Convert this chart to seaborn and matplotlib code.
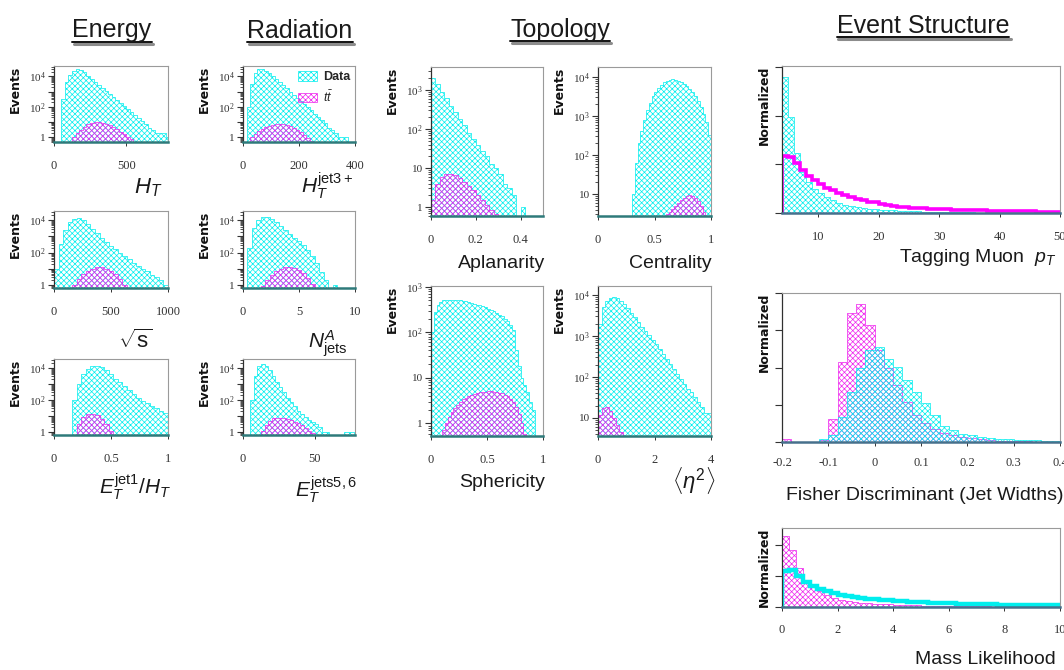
import numpy as np
import matplotlib
matplotlib.use("Agg")
import matplotlib.pyplot as plt
import seaborn as sns
from matplotlib.ticker import FixedLocator, FuncFormatter, LogLocator, NullFormatter
from matplotlib.lines import Line2D
from matplotlib.patches import Patch

# ---------------- data ----------------
HT_EDGES = np.arange(0, 800.1, 25)
HT_DATA = [0, 0, 300, 4000, 12600, 22400, 28000, 25000, 17800, 11200, 7100, 4500, 2800, 1800, 1100,
           710, 450, 280, 180, 110, 71, 45, 28, 18, 11, 7, 4, 3, 2, 2, 2, 1]
HT_TT = [0, 0, 0, 0, 0, 1.0, 2.0, 3.2, 5.0, 7.0, 8.8, 10, 10, 9.2, 7.8, 6.2, 4.6, 3.3, 2.3, 1.6, 1.1,
         0.75, 0.5, 0, 0, 0, 0, 0, 0, 0, 0, 0]

HTJ_EDGES = np.arange(0, 400.1, 12.5)
HTJ_DATA = [0, 100, 3200, 16000, 28000, 28000, 22000, 16000, 10000, 6300, 4000, 2500, 1600, 1000, 630,
            400, 250, 160, 100, 63, 35, 22, 13, 8, 4, 3, 2, 1, 1, 1, 0, 0]
HTJ_TT = [0, 0, 1.0, 1.6, 2.4, 3.4, 4.6, 5.7, 6.6, 7.2, 7.4, 7.1, 6.4, 5.5, 4.3, 3.2, 2.3, 1.5, 0.92,
          0.54, 0, 0, 0, 0, 0, 0, 0, 0, 0, 0, 0, 0]

SQS_EDGES = np.arange(0, 1000.1, 40)
SQS_DATA = [10, 320, 2500, 8000, 12600, 13200, 10000, 5600, 2800, 1600, 800, 450, 250, 160, 100,
            63, 38, 22, 15, 10, 7, 4, 3, 2, 1]
SQS_TT = [0, 0, 0, 0, 1.06, 2.4, 4.6, 7.5, 10.5, 12.3, 12.3, 10.5, 7.5, 4.6, 2.4, 1.06, 0.4,
          0, 0, 0, 0, 0, 0, 0, 0]

NJ_EDGES = np.arange(0, 10.01, 0.4)
NJ_DATA = [0, 200, 3200, 10000, 16000, 16000, 12600, 8000, 4500, 2500, 1400, 800, 500, 280, 140,
           63, 22, 6, 2, 0, 1, 0, 0, 0, 0]
NJ_TT = [0, 0, 0, 0, 0.85, 2, 4.2, 7.2, 10.4, 12.9, 13.4, 11.8, 8.7, 5.5, 2.8, 1.25, 0.5,
         0, 0, 0, 0, 0, 0, 0, 0]

RAT_EDGES = np.arange(0, 1.001, 0.04)
RAT_DATA = [0, 0, 0, 0, 100, 1000, 4000, 8900, 12600, 13200, 11200, 7100, 4000, 2200, 1260,
            710, 400, 224, 141, 89, 63, 45, 32, 22, 16]
RAT_TT = [0, 0, 0, 0, 0.66, 3, 8.5, 13.8, 14.5, 11, 6.8, 3.2, 1.2, 0.3, 0, 0, 0, 0, 0, 0, 0, 0, 0, 0, 0]

E56_EDGES = np.arange(0, 77.51, 2.5)
E56_DATA = [0, 0, 100, 3200, 12600, 17800, 14000, 7100, 3200, 1400, 630, 320, 140, 71, 40, 22, 14,
            9, 6, 4, 3, 2, 1, 1, 0, 0, 0, 0, 1, 1, 1]
E56_TT = [0, 0, 0, 0, 0, 1.26, 2.8, 5.0, 7.2, 8.1, 8.1, 7.4, 6.6, 5.6, 4.6, 3.6, 2.7, 1.9, 1.26, 0.83,
          0, 0, 0, 0, 0, 0, 0, 0, 0, 0, 0]

APL_EDGES = np.arange(0, 0.5001, 0.02)
APL_DATA = [2000, 1400, 900, 630, 400, 280, 180, 126, 80, 56, 40, 28, 20, 13, 10, 7, 4, 3, 2, 0, 1,
            0, 0, 0, 0]
APL_TT = [1.5, 4, 6, 7, 7, 6.5, 5.5, 4.5, 3.5, 2.7, 2.0, 1.5, 1.1, 0.85, 0.65, 0, 0, 0, 0, 0, 0, 0, 0, 0, 0]

CEN_EDGES = np.arange(0, 1.0001, 0.025)
CEN_DATA = [0] * 12 + [10, 63, 200, 400, 800, 1400, 2200, 3200, 4200, 5200, 6300, 7400, 8100, 8500,
                       8700, 8500, 7900, 7400, 6600, 5800, 4800, 4000, 3200, 2400, 1700, 1100, 700, 320]
CEN_TT = [0] * 24 + [3, 3.5, 4.2, 5, 6, 7, 8, 9, 9.3, 9, 8, 6.5, 5, 3.5, 2.7, 0]

SPH_EDGES = np.arange(0, 1.0001, 0.025)
SPH_DATA = [100, 280, 400, 470, 500, 510, 525, 525, 525, 510, 500, 490, 480, 455, 445, 425, 405, 390,
            370, 355, 330, 310, 290, 270, 245, 225, 200, 175, 145, 112, 40, 18, 10, 7, 5, 3, 2, 0, 0, 0]
SPH_TT = [0, 0, 0, 0, 0.7, 1.0, 1.4, 1.8, 2.2, 2.6, 3.0, 3.4, 3.7, 4.0, 4.3, 4.5, 4.7, 4.85, 4.95, 5.0,
          5.05, 5.05, 5.0, 4.9, 4.75, 4.55, 4.3, 3.95, 3.5, 3.0, 2.3, 1.6, 1.0, 0.6, 0, 0, 0, 0, 0, 0]

ETA_EDGES = np.arange(0, 4.001, 0.125)
ETA_DATA = [2000, 5000, 7100, 8500, 8900, 8300, 7200, 6000, 4800, 3700, 2900, 2200, 1700, 1350, 1050,
            810, 630, 480, 360, 275, 210, 160, 120, 90, 68, 52, 42, 32, 25, 18, 13, 13]
ETA_TT = [12, 17, 18, 15, 10, 6.5, 4.5, 3.6] + [0] * 24

MU_EDGES = np.arange(4, 50.01, 1)
MU_BKG = [0.279, 0.197, 0.123, 0.084, 0.064, 0.05, 0.041, 0.033, 0.026, 0.021, 0.016, 0.014, 0.012,
          0.010, 0.009, 0.008, 0.007, 0.006, 0.0055, 0.005, 0.0045, 0.004, 0.0035, 0.003, 0.0025, 0.002,
          0.002, 0.0018, 0.0016, 0.0015, 0.0013, 0.0012, 0.001, 0.001, 0.0009, 0.0009, 0.0008, 0.0008,
          0.0007, 0.0007, 0.0006, 0.0006, 0.0005, 0.0005, 0.0005, 0.0004]
MU_TT = [0.118, 0.116, 0.103, 0.088, 0.077, 0.067, 0.059, 0.052, 0.047, 0.041, 0.036, 0.033, 0.029,
         0.026, 0.023, 0.022, 0.018, 0.016, 0.014, 0.013, 0.012, 0.011, 0.010, 0.0095, 0.009, 0.0085,
         0.008, 0.0075, 0.007, 0.0066, 0.0062, 0.0058, 0.0055, 0.0052, 0.0049, 0.0046, 0.0043, 0.004,
         0.0038, 0.0036, 0.0034, 0.0032, 0.003, 0.0028, 0.0027, 0.0026]

FI_EDGES = np.arange(-0.2, 0.4001, 0.02)
FI_TT = [0.0045, 0, 0, 0, 0.003, 0.031, 0.107, 0.173, 0.185, 0.157, 0.124, 0.099, 0.076, 0.054, 0.036,
         0.025, 0.017, 0.012, 0.009, 0.007, 0.005, 0.0036, 0.0027, 0.0018, 0.0014, 0.001, 0.0008,
         0.0006, 0.0004, 0.0003]
FI_BKG = [0, 0, 0, 0, 0.0045, 0.009, 0.034, 0.067, 0.1, 0.124, 0.128, 0.112, 0.101, 0.083, 0.067,
          0.052, 0.036, 0.022, 0.016, 0.011, 0.009, 0.007, 0.0054, 0.0045, 0.0036, 0.003, 0.0027,
          0.0022, 0.0015, 0.001]

ML_EDGES = np.arange(0, 10.001, 0.25)
ML_TT = [0.114, 0.092, 0.062, 0.044, 0.033, 0.025, 0.019, 0.015, 0.012, 0.010, 0.0085, 0.0072, 0.0062,
         0.0054, 0.0047, 0.0041, 0.0036, 0.0032, 0.0028, 0.0025, 0.0022, 0.002, 0.0018, 0.0016, 0.0014,
         0.0013, 0.0012, 0.0011, 0.001, 0.0009, 0.0008, 0.0007, 0.0006, 0.0005, 0.0005, 0.0004, 0.0004,
         0.0003, 0.0003, 0.0003]
ML_BKG = [0.058, 0.06, 0.05, 0.040, 0.033, 0.029, 0.025, 0.022, 0.020, 0.018, 0.016, 0.0148, 0.0136,
          0.0125, 0.0115, 0.0106, 0.0098, 0.0091, 0.0085, 0.0079, 0.0074, 0.0069, 0.0065, 0.0061,
          0.0057, 0.0054, 0.0051, 0.0048, 0.0046, 0.0044, 0.0042, 0.0040, 0.0038, 0.0037, 0.0036,
          0.0035, 0.0034, 0.0033, 0.0032, 0.0031]

SECTION_TITLES = ["Energy", "Radiation", "Topology", "Event Structure"]
LEGEND_LABELS = ["Data", r"$t\bar{t}$"]

# ---------------- style ----------------
sns.set_theme(style="white")
SANS = ['Liberation Sans', 'DejaVu Sans']
plt.rcParams['font.family'] = SANS
plt.rcParams['hatch.linewidth'] = 0.5
plt.rcParams['mathtext.fontset'] = 'custom'
plt.rcParams['mathtext.rm'] = 'Liberation Sans'
plt.rcParams['mathtext.it'] = 'Liberation Sans:italic'
plt.rcParams['mathtext.bf'] = 'Liberation Sans:bold'

CYAN = '#00eeee'
MAG = '#ee22ee'
HATCH_C = 'xxxxxx'
HATCH_M = 'xxxxxx'
SERIF = 'Liberation Serif'

W, H = 1064, 670
fig = plt.figure(figsize=(W / 100, H / 100), dpi=100)
fig.patch.set_facecolor('white')


def add_box(x0, y0, x1, y1):
    return fig.add_axes([x0 / W, 1 - y1 / H, (x1 - x0) / W, (y1 - y0) / H])


def hist(ax, edges, values, color, hatch):
    edges = [float(e) for e in edges]
    centers = [(a + b) / 2 for a, b in zip(edges[:-1], edges[1:])]
    sns.histplot(x=centers, weights=list(values), bins=edges, element='step', fill=True, color=color,
                 facecolor='none', edgecolor=color, linewidth=0.5, hatch=hatch, ax=ax)


def base_style(ax, bottom_color, xpad):
    for s in ['top', 'right']:
        ax.spines[s].set_color('#9a9a9a')
        ax.spines[s].set_linewidth(0.8)
    ax.spines['left'].set_color('#303030')
    ax.spines['left'].set_linewidth(0.9)
    ax.spines['bottom'].set_color(bottom_color)
    ax.spines['bottom'].set_linewidth(1.8)
    ax.set_facecolor('white')
    ax.tick_params(axis='both', which='both', direction='out', colors='#333333',
                   labelfontfamily=SERIF)
    ax.tick_params(axis='y', which='major', length=4, width=0.8, left=True, labelsize=8, pad=2)
    ax.tick_params(axis='y', which='minor', length=2, width=0.6, left=True)
    ax.tick_params(axis='x', which='major', length=3, width=0.7, bottom=True, labelsize=9, pad=xpad)
    ax.set_xlabel('')


def log_fmt(shown):
    def f(v, pos):
        if v <= 0:
            return ''
        p = int(round(np.log10(v)))
        if p not in shown or not np.isclose(v, 10.0 ** p):
            return ''
        if p == 0:
            return '1'
        if p == 1:
            return '10'
        return r'$\mathdefault{10^{%d}}$' % p
    return FuncFormatter(f)


def log_panel(box, edges, data, tt, xlim, xticks, xticklabels, ylim, shown):
    ax = add_box(*box)
    hist(ax, edges, data, CYAN, HATCH_C)
    hist(ax, edges, tt, MAG, HATCH_M)
    ax.set_yscale('log')
    ax.set_xlim(*xlim)
    ax.set_ylim(*ylim)
    ax.yaxis.set_major_locator(FixedLocator([10.0 ** p for p in range(-1, 7)]))
    ax.yaxis.set_minor_locator(LogLocator(base=10, subs=np.arange(2, 10), numticks=30))
    ax.yaxis.set_major_formatter(log_fmt(shown))
    ax.yaxis.set_minor_formatter(NullFormatter())
    ax.set_xticks(xticks)
    ax.set_xticklabels(xticklabels)
    base_style(ax, '#2e7a7a', 10)
    ax.set_ylabel('Events', loc='top', fontsize=9, fontweight='bold', family='DejaVu Sans',
                  color='#111111')
    wpx = box[2] - box[0]
    ax.yaxis.set_label_coords(-32 / wpx, 1.0)
    return ax


def ftext(x, y, s, size=14, ha='center', va='baseline', **kw):
    return fig.text(x / W, 1 - y / H, s, fontsize=size, ha=ha, va=va, color='#1a1a1a', **kw)


# ---------------- Energy column ----------------
log_panel((54, 66, 168, 142), HT_EDGES, HT_DATA, HT_TT, (0, 790), [0, 500], ['0', '500'],
          (0.49, 4.7e4), [0, 2, 4])
log_panel((54, 211, 168, 288), SQS_EDGES, SQS_DATA, SQS_TT, (0, 1000), [0, 500, 1000],
          ['0', '500', '1000'], (0.66, 3.7e4), [0, 2, 4])
log_panel((54, 359, 168, 435), RAT_EDGES, RAT_DATA, RAT_TT, (0, 1), [0, 0.5, 1], ['0', '0.5', '1'],
          (0.66, 3.7e4), [0, 2, 4])

# ---------------- Radiation column ----------------
axr = log_panel((243, 66, 355, 142), HTJ_EDGES, HTJ_DATA, HTJ_TT, (0, 400), [0, 200, 400],
                ['0', '200', '400'], (0.49, 4.7e4), [0, 2, 4])
log_panel((243, 211, 355, 288), NJ_EDGES, NJ_DATA, NJ_TT, (0, 10), [0, 5, 10], ['0', '5', '10'],
          (0.66, 3.7e4), [0, 2, 4])
log_panel((243, 359, 355, 435), E56_EDGES, E56_DATA, E56_TT, (0, 78), [0, 50], ['0', '50'],
          (0.66, 3.7e4), [0, 2, 4])

handles = [Patch(facecolor='none', edgecolor=CYAN, hatch=HATCH_C, linewidth=0.5),
           Patch(facecolor='none', edgecolor=MAG, hatch=HATCH_M, linewidth=0.5)]
axr.legend(handles, LEGEND_LABELS, loc='upper right', frameon=False,
           prop={'size': 9, 'weight': 'bold', 'family': SANS},
           handlelength=1.5, handleheight=0.8, handletextpad=0.5, labelspacing=0.5,
           borderaxespad=0.2, borderpad=0.2)

# ---------------- Topology ----------------
log_panel((431, 67, 543, 216), APL_EDGES, APL_DATA, APL_TT, (0, 0.5), [0, 0.2, 0.4],
          ['0', '0.2', '0.4'], (0.59, 3900), [0, 1, 2, 3])
log_panel((598, 67, 711, 216), CEN_EDGES, CEN_DATA, CEN_TT, (0, 1), [0, 0.5, 1],
          ['0', '0.5', '1'], (2.73, 1.8e4), [1, 2, 3, 4])
log_panel((431, 286, 543, 436), SPH_EDGES, SPH_DATA, SPH_TT, (0, 1), [0, 0.5, 1],
          ['0', '0.5', '1'], (0.53, 1040), [0, 1, 2, 3])
log_panel((598, 286, 711, 436), ETA_EDGES, ETA_DATA, ETA_TT, (0, 4), [0, 2, 4],
          ['0', '2', '4'], (3.6, 1.66e4), [1, 2, 3, 4])


# ---------------- Event structure ----------------
def lin_style(ax, box, xlim, xticks, xticklabels, ylim, yticks, xpad):
    ax.set_xlim(*xlim)
    ax.set_ylim(*ylim)
    ax.set_xticks(xticks)
    ax.set_xticklabels(xticklabels)
    ax.set_yticks(yticks)
    base_style(ax, '#46708c', xpad)
    ax.tick_params(axis='y', which='major', labelleft=False, length=5)
    ax.set_ylabel('Normalized', loc='top', fontsize=9, fontweight='bold', family='DejaVu Sans',
                  color='#111111')
    ax.yaxis.set_label_coords(-11 / (box[2] - box[0]), 1.0)


box_mu = (782, 66, 1060, 213)
ax_mu = add_box(*box_mu)
hist(ax_mu, MU_EDGES, MU_BKG, CYAN, HATCH_C)
ax_mu.stairs(MU_TT, MU_EDGES, baseline=0, fill=False, color='#ff00ff', linewidth=2.6)
lin_style(ax_mu, box_mu, (4, 50), [10, 20, 30, 40, 50], ['10', '20', '30', '40', '50'],
          (0, 0.302), [0, 0.1, 0.2, 0.3], 10)

box_fi = (782, 293, 1060, 442)
ax_fi = add_box(*box_fi)
hist(ax_fi, FI_EDGES, FI_TT, MAG, HATCH_M)
hist(ax_fi, FI_EDGES, FI_BKG, CYAN, HATCH_C)
lin_style(ax_fi, box_fi, (-0.2, 0.4), [-0.2, -0.1, 0, 0.1, 0.2, 0.3, 0.4],
          ['-0.2', '-0.1', '0', '0.1', '0.2', '0.3', '0.4'], (0, 0.2),
          [0, 0.05, 0.1, 0.15, 0.2], 8)

box_ml = (782, 528, 1060, 607)
ax_ml = add_box(*box_ml)
hist(ax_ml, ML_EDGES, ML_TT, MAG, HATCH_M)
ax_ml.stairs(ML_BKG, ML_EDGES, baseline=0, fill=False, color='#00eeee', linewidth=3.2)
lin_style(ax_ml, box_ml, (0, 10), [0, 2, 4, 6, 8, 10], ['0', '2', '4', '6', '8', '10'],
          (0, 0.127), [0, 0.05, 0.1], 9)

# ---------------- axis labels ----------------
ftext(148, 193, r'$H_T$', 16)
ftext(327, 193, r'$H_T^{\mathrm{jet3+}}$', 15)
ftext(135, 348, r'$\sqrt{\mathrm{s}}$', 16)
ftext(328, 348, r'$N_{\mathrm{jets}}^{A}$', 15)
ftext(135, 494, r'$E_T^{\mathrm{jet1}}/H_T$', 15)
ftext(326, 497, r'$E_T^{\mathrm{jets5,6}}$', 15)
ftext(545, 268, 'Aplanarity', 14, ha='right')
ftext(712, 268, 'Centrality', 14, ha='right')
ftext(545, 487, 'Sphericity', 14, ha='right')
ftext(694, 480, r'$\langle\eta^2\rangle$', 16, va='center')
ftext(1056, 262, r'Tagging Muon  $p_T$', 14, ha='right')
ftext(1063, 500, 'Fisher Discriminant (Jet Widths)', 14, ha='right')
ftext(1056, 664, 'Mass Likelihood', 14, ha='right')

# ---------------- section titles ----------------
title_pos = [(112, 37.5), (300, 37.5), (560, 37), (923, 33)]
titles = []
for s, (x, y) in zip(SECTION_TITLES, title_pos):
    titles.append(ftext(x, y, s, 18, ha='center', va='baseline'))

fig.canvas.draw()
r = fig.canvas.get_renderer()
for t in titles:
    bb = t.get_window_extent(r)
    y = bb.y0 + 1
    fig.add_artist(Line2D([(bb.x0 + 1.5) / W, (bb.x1 + 1.5) / W], [(y - 2.2) / H] * 2,
                          transform=fig.transFigure, color='#8c8c8c', linewidth=2.2))
    fig.add_artist(Line2D([bb.x0 / W, bb.x1 / W], [y / H] * 2,
                          transform=fig.transFigure, color='#111111', linewidth=1.4))

fig.savefig('out.png', dpi=100, facecolor='white')
